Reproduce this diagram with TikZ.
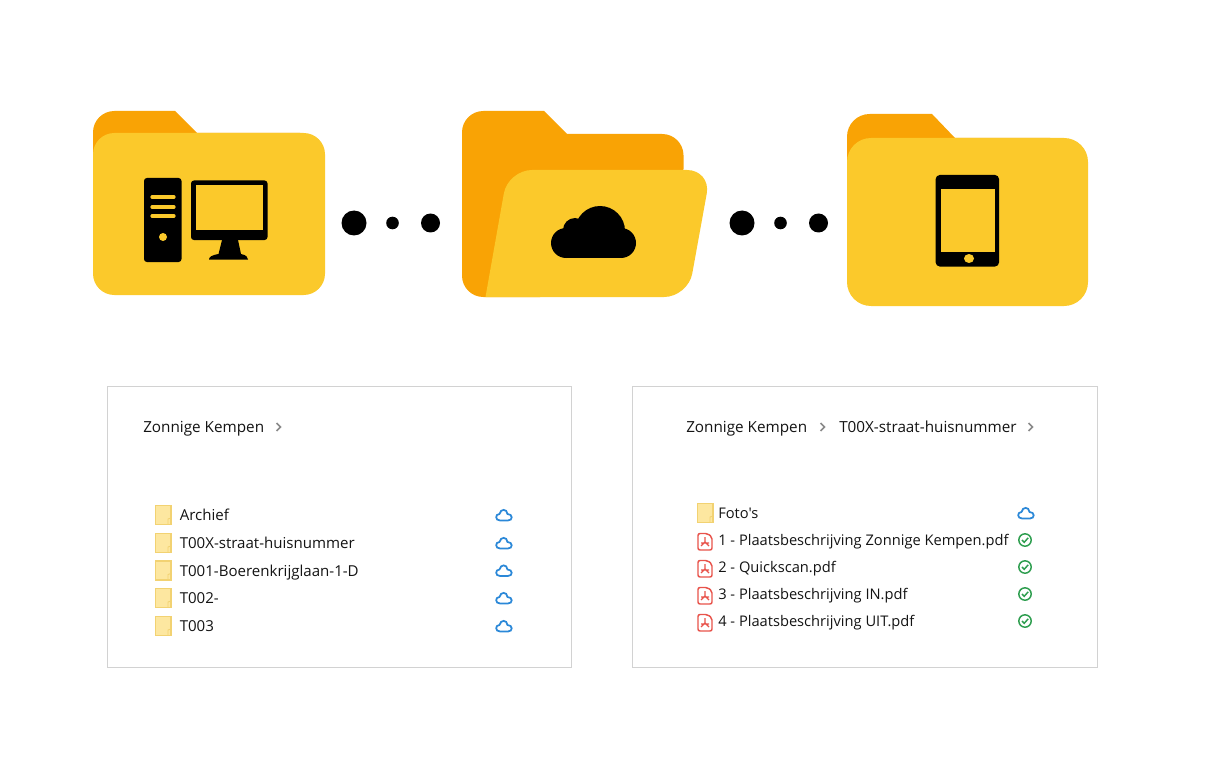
\documentclass[tikz,border=0pt]{standalone}
\usepackage{fontspec}
\newfontfamily\rowfont{Open Sans}
\definecolor{folderback}{HTML}{F9A305}
\definecolor{folderfront}{HTML}{FBC92B}
\definecolor{smallfill}{HTML}{FDE7A0}
\definecolor{smallline}{HTML}{F2D272}
\definecolor{cloudblue}{HTML}{2B88D8}
\definecolor{checkgreen}{HTML}{2E9E4F}
\definecolor{pdfred}{HTML}{E8534B}
\definecolor{boxline}{HTML}{D2D2D2}
\definecolor{crumb}{HTML}{8A8A8A}
\definecolor{rowtext}{HTML}{141414}
\newcommand{\smallfolder}[2]{
  \draw[smallline, fill=smallfill, line width=.9pt] (#1+.7,#2-9.5) rectangle (#1+16,#2+9.5);
  \draw[smallline, line width=.7pt] (#1+16,#2+3) -- (#1+13,#2+4) -- (#1+13,#2+9.5);
}
\newcommand{\smallcloud}[2]{
  \draw[cloudblue, line width=1.3pt] (#1-4,#2+5.5) .. controls (#1-9,#2+5.5) and (#1-9,#2-1) .. (#1-4.5,#2-1)
    .. controls (#1-3.5,#2-6.5) and (#1+3,#2-6.5) .. (#1+3.5,#2-1)
    .. controls (#1+9,#2-1) and (#1+9,#2+5.5) .. (#1+4,#2+5.5) -- cycle;
}
\newcommand{\pdficon}[2]{
  \draw[pdfred, fill=white, line width=1.1pt, rounded corners=1.5pt] (#1+1,#2-6.5) -- (#1+10.5,#2-6.5) -- (#1+15,#2-3) -- (#1+15,#2+10) -- (#1+1,#2+10) -- cycle;
  \draw[pdfred, line width=1pt] (#1+8,#2-3) -- (#1+8,#2+2) -- (#1+4,#2+6) (#1+8,#2+2) -- (#1+12,#2+6) (#1+4,#2+3) -- (#1+12,#2+3);
}
\newcommand{\greencheck}[2]{
  \draw[checkgreen, line width=1.1pt] (#1,#2) circle (6.2);
  \draw[checkgreen, line width=1.1pt] (#1-3,#2) -- (#1-.8,#2+2.3) -- (#1+3.2,#2-2.2);
}
\newcommand{\chevron}[2]{
  \draw[crumb, line width=1.3pt] (#1-2.5,#2-4) -- (#1+1.5,#2) -- (#1-2.5,#2+4);
}
\begin{document}
\begin{tikzpicture}[x=.75pt, y=-.75pt,
    crumbtext/.style={anchor=base west, inner sep=0pt, text=rowtext, font=\rowfont\fontsize{11.45}{13}\selectfont},
    leftrow/.style={anchor=base west, inner sep=0pt, text=rowtext, font=\rowfont\fontsize{11.3}{13}\selectfont},
    rightrow/.style={anchor=base west, inner sep=0pt, text=rowtext, font=\rowfont\fontsize{11}{13}\selectfont}]
  \useasboundingbox (0,0) rectangle (1205,784);
  \fill[white] (0,0) rectangle (1205,784);

  \fill[folderback, rounded corners=16pt] (93,190) -- (93,111) [sharp corners] -- (175,111) -- (197,133) -- (300,133) -- (300,190) -- cycle;
  \fill[folderfront, rounded corners=16pt] (93,133) rectangle (325,295);
  \fill[rounded corners=2.2pt] (144,178) rectangle (181.5,262);
  \foreach \y in {197,207,216}
  \draw[folderfront, line width=2.4pt, line cap=round] (152,\y) -- (174,\y);
  \fill[folderfront] (163,237) circle (4);
  \fill[rounded corners=2.2pt] (191,180.5) rectangle (267.5,240);
  \fill[folderfront] (195.5,185) rectangle (263,230);
  \fill (222,240) -- (238,240) -- (241,254) .. controls (246,255) and (248,257) .. (248,259.5) -- (209,259.5) .. controls (209,257) and (212,255) .. (218.5,254) -- cycle;

  \fill[folderback, rounded corners=16pt] (540,297) -- (462,297) -- (462,111) [sharp corners] -- (544,111) -- (567,134) [rounded corners=16pt] -- (683.5,134) -- (683.5,190) [sharp corners] -- (540,190) -- cycle;
  \fill[folderfront, rounded corners=18pt] (600,170) -- (711,170) -- (688,297) [sharp corners] -- (485.5,297) [rounded corners=18pt] -- (508,170) -- cycle;
  \fill (600,231) circle (25);
  \fill (575,230) circle (12);
  \fill (566,243) circle (15);
  \fill (621,243) circle (15);
  \fill (566,232) rectangle (621,258);

  \fill[folderback, rounded corners=17pt] (847,190) -- (847,114) [sharp corners] -- (932,114) -- (955,138) -- (1050,138) -- (1050,190) -- cycle;
  \fill[folderfront, rounded corners=18pt] (847,138) rectangle (1088,306);
  \fill[rounded corners=3pt] (935.7,175) rectangle (999,266.5);
  \fill[folderfront] (940.5,189.5) rectangle (994.5,252);
  \fill[folderfront] (969,258.5) ellipse (5 and 4.5);

  \foreach \x in {354,742}{
    \fill (\x,223) circle (12.5);
    \fill (\x+38.5,223) circle (6.3);
    \fill (\x+76.5,223) circle (9.5);
  }

  \draw[boxline, line width=.9pt] (107.5,386.5) rectangle (571.5,667.5);
  \draw[boxline, line width=.9pt] (632.5,386.5) rectangle (1097.5,667.5);

  \node[crumbtext] (leftcrumb) at (143,432) {Zonnige Kempen};
  \chevron{279}{427}
  \node[crumbtext] (rightcrumb) at (686,432) {Zonnige Kempen};
  \chevron{823}{427}
  \node[crumbtext] (subcrumb) at (839,432) {T00X-straat-huisnummer};
  \chevron{1031}{427}

  \foreach \y/\name/\txt in {515/archief/Archief,543/straat/T00X-straat-huisnummer,570.5/boeren/T001-Boerenkrijglaan-1-D,598/tzero/T002-,626/tdrie/T003}{
    \smallfolder{155}{\y}
    \node[leftrow] (\name) at (179.5,\y+5.5) {\txt};
    \smallcloud{504}{\y}
  }

  \smallfolder{697}{513}
  \node[rightrow] (fotos) at (718,518.5) {Foto's};
  \smallcloud{1026}{513}
  \foreach \y/\name/\txt in {540/one/1 - Plaatsbeschrijving Zonnige Kempen.pdf,567/two/2 - Quickscan.pdf,594/three/3 - Plaatsbeschrijving IN.pdf,621/four/4 - Plaatsbeschrijving UIT.pdf}{
    \pdficon{697}{\y}
    \node[rightrow] (\name) at (718,\y+5.5) {\txt};
    \greencheck{1025}{\y}
  }
\end{tikzpicture}
\end{document}
